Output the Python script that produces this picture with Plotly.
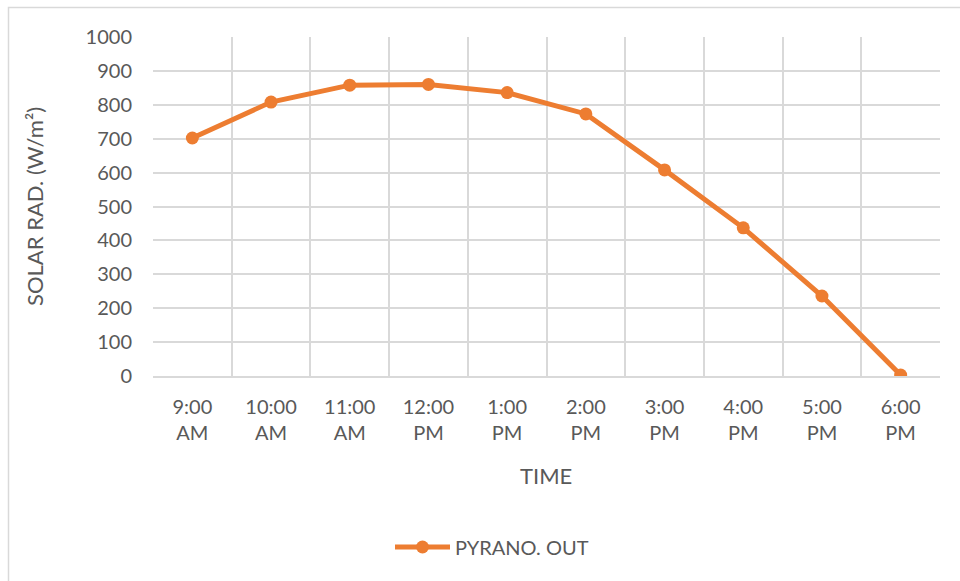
import plotly.graph_objects as go

categories = ["9:00<br>AM", "10:00<br>AM", "11:00<br>AM", "12:00<br>PM", "1:00<br>PM",
              "2:00<br>PM", "3:00<br>PM", "4:00<br>PM", "5:00<br>PM", "6:00<br>PM"]
pyrano_out = [702, 808, 858, 860, 836, 773, 608, 437, 236, 3]
y_ticks = list(range(0, 1001, 100))

ORANGE = "#ED7D31"
GRID = "#D9D9D9"
TXT = "#595959"
FONT = "Lato, 'Open Sans', sans-serif"
FS = 20
FT = 22

L, R, T, B = 153, 20, 37, 205
W, H = 960, 581
pw, ph = W - L - R, H - T - B

def px_x(p):
    return (p - L) / pw

def px_y(p):
    return (H - B - p) / ph

fig = go.Figure()
fig.add_trace(go.Scatter(
    x=categories, y=pyrano_out, mode="lines+markers", name="PYRANO. OUT",
    line=dict(color=ORANGE, width=5),
    marker=dict(color=ORANGE, size=13),
))

fig.update_layout(
    width=W, height=H,
    margin=dict(l=L, r=R, t=T, b=B),
    paper_bgcolor="white", plot_bgcolor="white",
    font=dict(family=FONT, size=FS, color=TXT),
    showlegend=True,
    legend=dict(orientation="h", x=px_x(492), xanchor="center", y=px_y(547), yanchor="middle",
                font=dict(size=FS, color=TXT), bgcolor="rgba(0,0,0,0)", itemwidth=55),
    xaxis=dict(type="category", range=[-0.5, len(categories) - 0.5], tickson="boundaries",
               showgrid=True, gridcolor=GRID, gridwidth=1.5,
               showline=True, linecolor=GRID, linewidth=1.5, ticks="", ticklabelstandoff=12,
               zeroline=False, fixedrange=True),
    yaxis=dict(range=[0, 1000], tickvals=y_ticks, showgrid=True, gridcolor=GRID, gridwidth=1.5,
               showline=False, zeroline=False, ticks="", ticklabelstandoff=20),
    annotations=[
        dict(text="TIME", xref="paper", yref="paper", x=px_x(546), y=px_y(475),
             xanchor="center", yanchor="middle", showarrow=False, font=dict(size=FT, color=TXT)),
        dict(text="SOLAR RAD. (W/m²)", xref="paper", yref="paper", x=px_x(34), y=px_y(207),
             xanchor="center", yanchor="middle", textangle=-90, showarrow=False,
             font=dict(size=FT, color=TXT)),
    ],
    shapes=[
        dict(type="rect", xref="paper", yref="paper", x0=px_x(8.5), y0=px_y(600), x1=px_x(990), y1=px_y(7.5),
             line=dict(color=GRID, width=1.5), fillcolor="rgba(0,0,0,0)", layer="below"),
    ],
)

fig.write_html("out.html")
